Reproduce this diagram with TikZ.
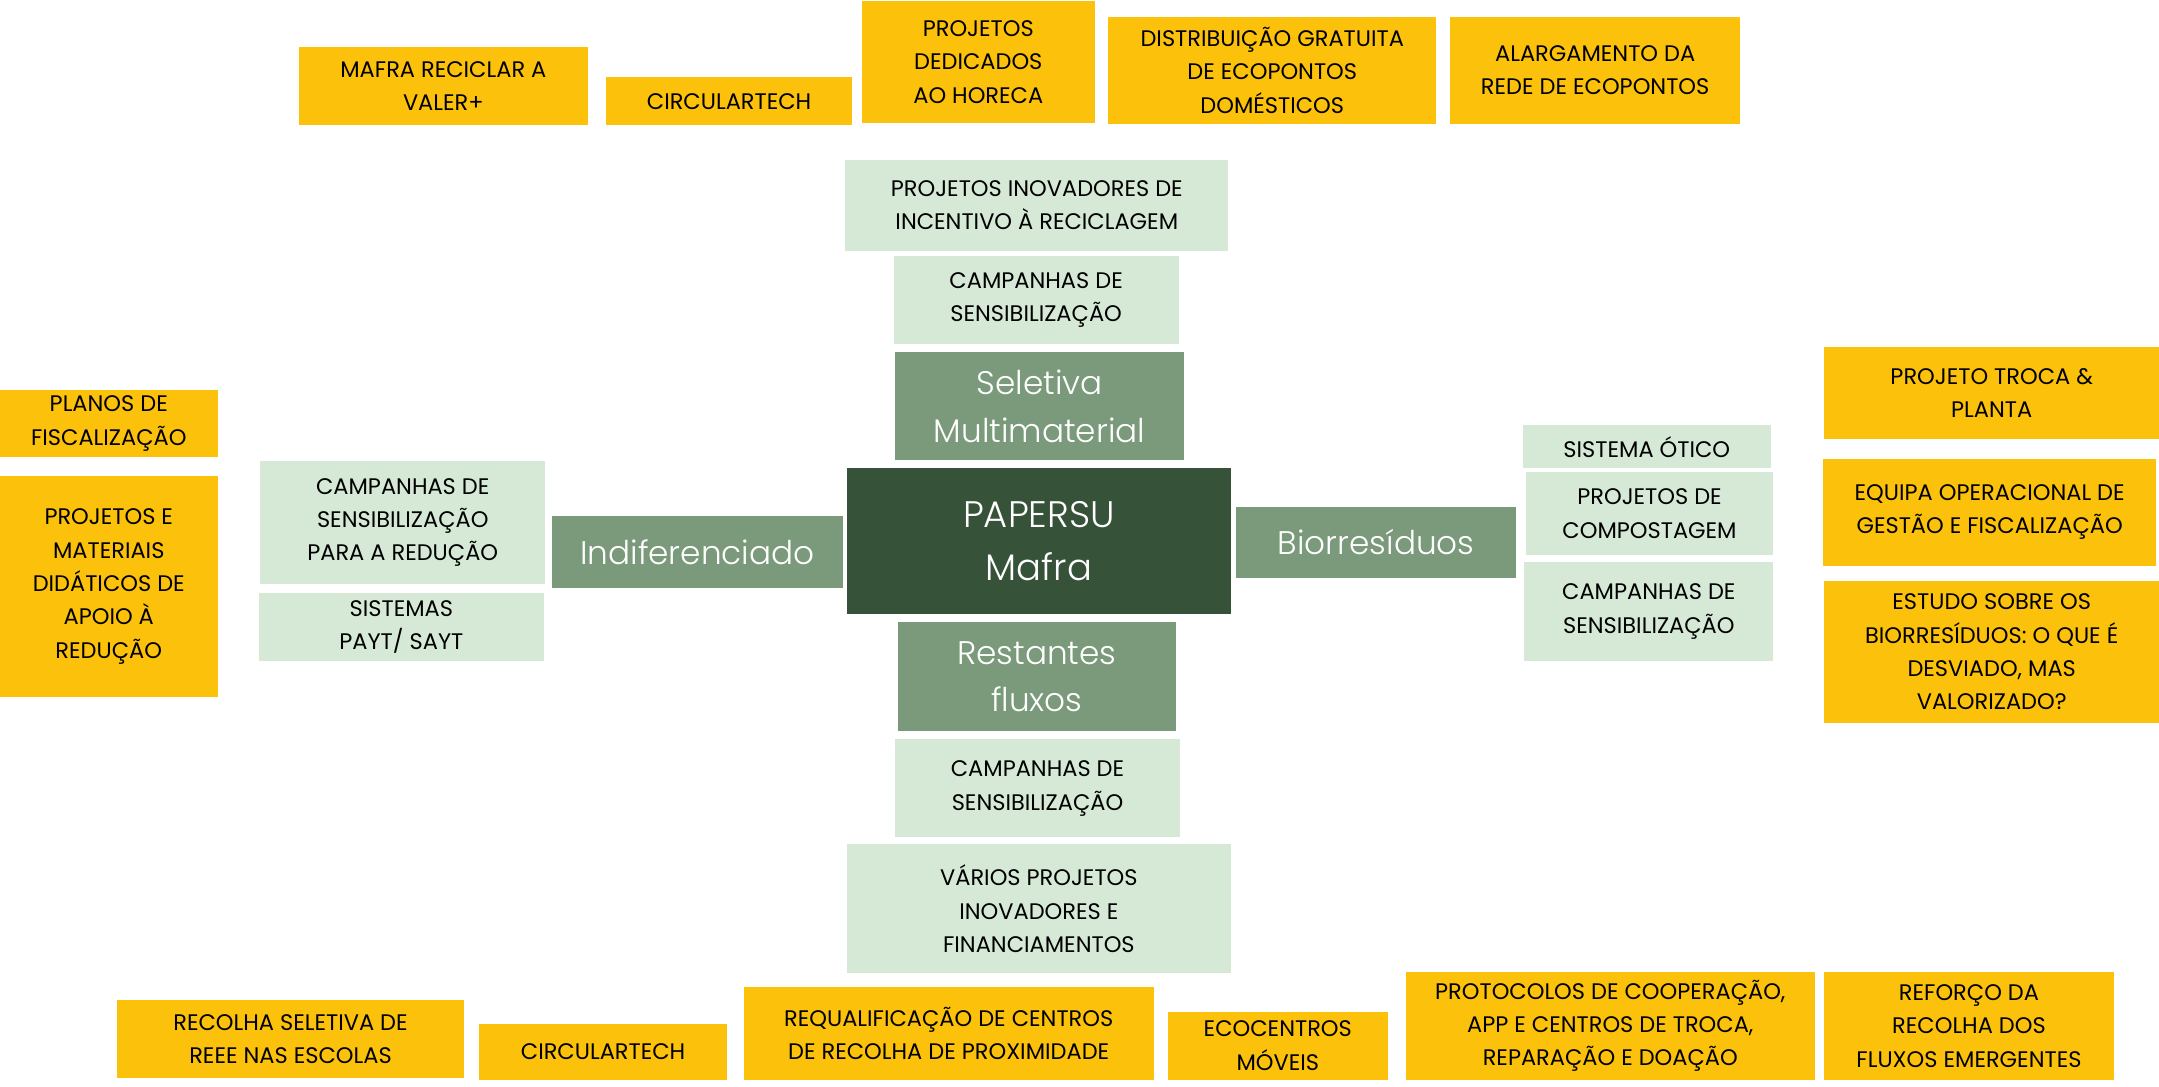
\documentclass[tikz,border=0pt]{standalone}
\usepackage{fontspec}
\setmainfont{Poppins}
\newfontfamily\lightfont{Poppins Light}
\usetikzlibrary{positioning}
\definecolor{amber}{HTML}{FCC10A}
\definecolor{palegreen}{HTML}{D6E9D6}
\definecolor{midgreen}{HTML}{7B997B}
\definecolor{darkgreen}{HTML}{36533A}
\newcommand{\unitpx}{0.013769cm}
\tikzset{sz/.style 2 args={minimum width=#1*\unitpx, minimum height=#2*\unitpx}}
\tikzset{action/.style={fill=amber, inner sep=0pt, align=center, font=\fontsize{6.4}{9.5}\selectfont}}
\tikzset{measure/.style={fill=palegreen, inner sep=0pt, align=center, font=\fontsize{6.4}{9.5}\selectfont}}
\tikzset{stream/.style={fill=midgreen, text=white, inner sep=0pt, align=center, font=\lightfont\fontsize{9.3}{13.6}\selectfont}}
\tikzset{plan/.style={fill=darkgreen, text=white, inner sep=0pt, align=center, font=\lightfont\fontsize{10.5}{15}\selectfont}}

\begin{document}
\begin{tikzpicture}[x=0.013769cm, y=-0.013769cm]
		\useasboundingbox (0,0) rectangle (1568,789);
		
		% centre and the four streams
		\node[plan, sz={279}{106}] (papersu) at (754.5,393){PAPERSU\\Mafra};
		\node[stream, sz={210}{78}] (seletiva) at (755,295){Seletiva\\Multimaterial};
		\node[stream, sz={211}{52}] (indif) at (506.5,401){Indiferenciado};
		\node[stream, sz={203}{52}] (bio) at (999.5,394){Biorresíduos};
		\node[stream, sz={202}{79}] (restantes) at (753,491.5){Restantes\\fluxos};
		
		% seletiva
		\node[measure, sz={207}{64}] (campSel) at (752.5,218){CAMPANHAS DE\\SENSIBILIZAÇÃO};
		\node[measure, sz={278}{66}] (inovRec) at (753,149){PROJETOS INOVADORES DE\\INCENTIVO À RECICLAGEM};
		\node[action, sz={210}{57}] (mafra) at (322,62.5){MAFRA RECICLAR A\\VALER+};
		\node[action, sz={179}{35}] (circTop) at (529.5,73.5){CIRCULARTECH};
		\node[action, sz={169}{88}] (horeca) at (710.5,45){PROJETOS\\DEDICADOS\\AO HORECA};
		\node[action, sz={238}{78}] (distrib) at (924,51){DISTRIBUIÇÃO GRATUITA\\DE ECOPONTOS\\DOMÉSTICOS};
		\node[action, sz={211}{78}] (alarg) at (1158.5,51){ALARGAMENTO DA\\REDE DE ECOPONTOS};
		
		% indiferenciado
		\node[measure, sz={207}{89}] (campRed) at (292.5,379.5){CAMPANHAS DE\\SENSIBILIZAÇÃO\\PARA A REDUÇÃO};
		\node[measure, sz={207}{49}] (payt) at (291.5,455.5){SISTEMAS\\PAYT/ SAYT};
		\node[action, sz={158}{49}] (planos) at (79,307.5){PLANOS DE\\FISCALIZAÇÃO};
		\node[action, sz={158}{160}] (didat) at (79,426){PROJETOS E\\MATERIAIS\\DIDÁTICOS DE\\APOIO À\\REDUÇÃO};
		
		% biorresiduos
		\node[measure, sz={180}{31}] (otico) at (1196,324.5){SISTEMA ÓTICO};
		\node[measure, sz={180}{60}] (compost) at (1198,373){PROJETOS DE\\COMPOSTAGEM};
		\node[measure, sz={181}{72}] (campBio) at (1197.5,444){CAMPANHAS DE\\SENSIBILIZAÇÃO};
		\node[action, sz={243}{67}] (troca) at (1446.5,285.5){PROJETO TROCA \&\\PLANTA};
		\node[action, sz={242}{78}] (equipa) at (1445,372){EQUIPA OPERACIONAL DE\\GESTÃO E FISCALIZAÇÃO};
		\node[action, sz={243}{103}] (estudo) at (1446.5,473.5){ESTUDO SOBRE OS\\BIORRESÍDUOS: O QUE É\\DESVIADO, MAS\\VALORIZADO?};
		
		% restantes fluxos
		\node[measure, sz={207}{71}] (campRest) at (753.5,572.5){CAMPANHAS DE\\SENSIBILIZAÇÃO};
		\node[measure, sz={279}{94}] (varios) at (754.5,660){VÁRIOS PROJETOS\\INOVADORES E\\FINANCIAMENTOS};
		\node[action, sz={252}{57}] (reee) at (211,754.5){RECOLHA SELETIVA DE\\REEE NAS ESCOLAS};
		\node[action, sz={180}{40}] (circBot) at (438,764){CIRCULARTECH};
		\node[action, sz={298}{67}] (requal) at (689,750.5){REQUALIFICAÇÃO DE CENTROS\\DE RECOLHA DE PROXIMIDADE};
		\node[action, sz={160}{49}] (ecocentros) at (928,759.5){ECOCENTROS\\MÓVEIS};
		\node[action, sz={297}{78}] (protocolos) at (1169.5,745){PROTOCOLOS DE COOPERAÇÃO,\\APP E CENTROS DE TROCA,\\REPARAÇÃO E DOAÇÃO};
		\node[action, sz={210}{78}] (reforco) at (1430,745){REFORÇO DA\\RECOLHA DOS\\FLUXOS EMERGENTES};
	\end{tikzpicture}
\end{document}
